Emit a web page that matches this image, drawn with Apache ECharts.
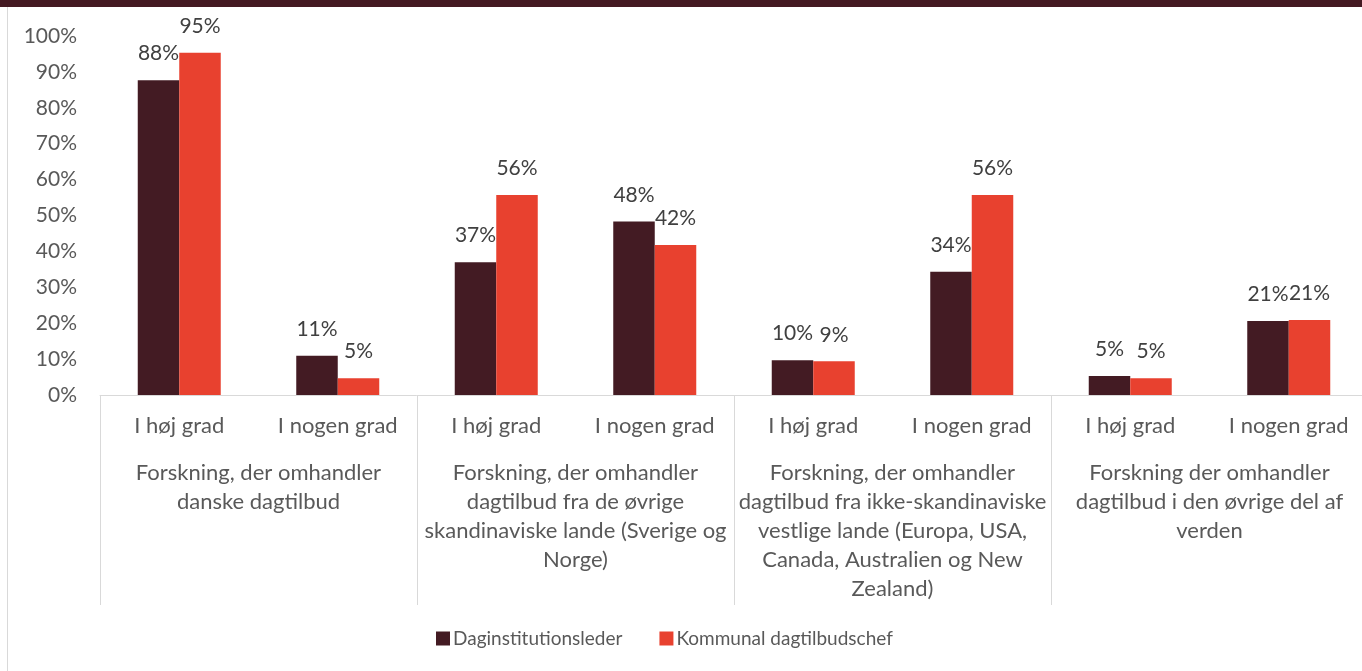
<!DOCTYPE html>
<html>
<head>
<meta charset="utf-8">
<script src="https://cdn.jsdelivr.net/npm/echarts@6/dist/echarts.min.js"></script>
<style>
html,body{margin:0;padding:0;background:#fff;overflow:hidden;}
#chart{width:1368px;height:671px;}
</style>
</head>
<body>
<div id="chart"></div>
<script>
var subCategories = ['I høj grad','I nogen grad','I høj grad','I nogen grad','I høj grad','I nogen grad','I høj grad','I nogen grad'];
var groupCategories = [
  'Forskning, der omhandler\ndanske dagtilbud',
  'Forskning, der omhandler\ndagtilbud fra de øvrige\nskandinaviske lande (Sverige og\nNorge)',
  'Forskning, der omhandler\ndagtilbud fra ikke-skandinaviske\nvestlige lande (Europa, USA,\nCanada, Australien og New\nZealand)',
  'Forskning der omhandler\ndagtilbud i den øvrige del af\nverden'
];
var seriesNames = ['Daginstitutionsleder','Kommunal dagtilbudschef'];
var daginstitutionsleder = [87.7, 10.9, 37.0, 48.3, 9.7, 34.3, 5.3, 20.6];
var kommunalDagtilbudschef = [95.3, 4.7, 55.7, 41.8, 9.4, 55.7, 4.7, 20.9];
var yTicks = [0,10,20,30,40,50,60,70,80,90,100];

var FONT = 'Lato, "Open Sans", sans-serif';
var chart = echarts.init(document.getElementById('chart'));
function lbl(){
  return {show:true, position:'top', distance:16, fontSize:21, fontFamily:FONT, color:'#404040',
    formatter:function(p){return Math.round(p.value)+'%';}};
}
chart.setOption({
  animation:false,
  backgroundColor:'#fff',
  graphic:[
    {type:'rect', shape:{x:0,y:0,width:1368,height:7}, style:{fill:'#441a22'}},
    {type:'line', shape:{x1:7.5,y1:7,x2:7.5,y2:671}, style:{stroke:'#d9d9d9',lineWidth:1}}
  ],
  grid:{left:100, right:0, top:36, bottom:276, containLabel:false},
  legend:{
    data:seriesNames, bottom:23, left:436, padding:0, itemWidth:14, itemHeight:14, itemGap:37,
    icon:'rect', textStyle:{fontSize:19, fontFamily:FONT, color:'#595959', padding:[0,0,0,-2]}
  },
  xAxis:[
    {type:'category', data:subCategories, position:'bottom',
     axisLine:{show:true, lineStyle:{color:'#d9d9d9', width:1}},
     axisTick:{show:false},
     axisLabel:{interval:0, margin:20, fontSize:22, fontFamily:FONT, color:'#595959'}},
    {type:'category', data:groupCategories, position:'bottom',
     axisLine:{show:false},
     axisTick:{show:true, length:210, lineStyle:{color:'#d9d9d9', width:1}},
     axisLabel:{interval:0, margin:63, fontSize:22, lineHeight:29, fontFamily:FONT, color:'#595959', align:'center', verticalAlign:'top'}}
  ],
  yAxis:{type:'value', min:yTicks[0], max:yTicks[yTicks.length-1], interval:10,
    axisLine:{show:false}, axisTick:{show:false}, splitLine:{show:false},
    axisLabel:{margin:23, fontSize:21, fontFamily:FONT, color:'#595959', formatter:'{value}%'}},
  series:[
    {name:seriesNames[0], type:'bar', xAxisIndex:0, data:daginstitutionsleder, barWidth:41.5, barGap:'0%',
     itemStyle:{color:'#431b23'}, label:lbl()},
    {name:seriesNames[1], type:'bar', xAxisIndex:0, data:kommunalDagtilbudschef, barWidth:41.5, barGap:'0%',
     itemStyle:{color:'#e8412f'}, label:lbl()}
  ]
});
</script>
</body>
</html>
